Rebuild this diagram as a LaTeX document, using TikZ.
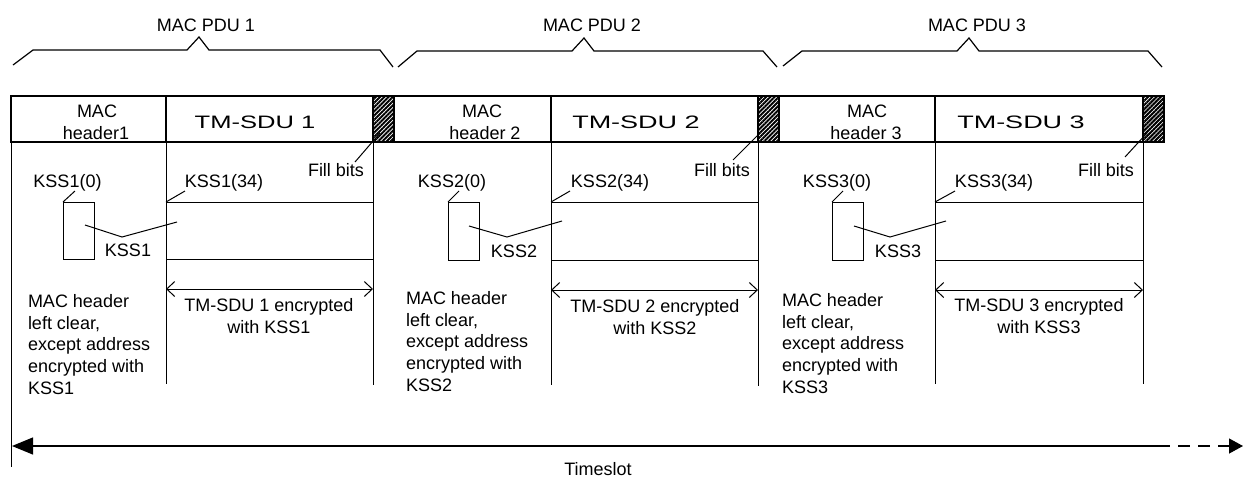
\documentclass[tikz,border=0pt]{standalone}
\usepackage{graphicx}
\usepackage{fontspec}
\setmainfont{Liberation Sans}
\usetikzlibrary{arrows.meta,patterns.meta,fit}
\begin{document}
\begin{tikzpicture}[x=1pt,y=-1pt,line width=1pt,
  every node/.style={font=\fontsize{18pt}{21.75pt}\selectfont,inner sep=0pt,outer sep=0pt},
  box/.style={draw,line width=1pt,inner sep=0pt,outer sep=0pt},
  barbox/.style={draw,line width=1.4pt,inner sep=0pt,outer sep=0pt},
  hatch/.style={draw,line width=1.4pt,inner sep=0pt,outer sep=0pt,
    pattern={Lines[angle=45,distance=3pt,line width=2pt]},pattern color=black},
  lbl/.style={anchor=base},
  multi/.style={align=left,anchor=north west},
  enc/.style={align=center,anchor=north},
  dim/.style={{Straight Barb[length=8pt,width=15pt]}-{Straight Barb[length=8pt,width=15pt]},line width=1pt},
  brace/.style={line width=1.2pt,line join=miter},
  tl/.style={line width=1.2pt}]
\useasboundingbox (0,0) rectangle (1244,477);

% ---------- MAC PDU braces ----------
\draw[brace] (13,65) -- (33,50) -- (187,50) -- (199,37) -- (209,50) -- (380,50) -- (393,67);
\draw[brace] (398,67) -- (417,51) -- (572,51) -- (584,38) -- (594,51) -- (763,51) -- (777,67);
\draw[brace] (783,66) -- (802,51) -- (957,51) -- (969,38) -- (979,51) -- (1148,51) -- (1162,67);
\node[lbl] (pdu1) at (206,31.5) {MAC PDU 1};
\node[lbl] (pdu2) at (592,31.5) {MAC PDU 2};
\node[lbl] (pdu3) at (977,31.5) {MAC PDU 3};

% ---------- bar ----------
\node[barbox,fit={(11,96)(166,142)}] (hdr1) {};
\node[barbox,fit={(166,96)(373,142)}] (sdu1) {};
\node[hatch,fit={(373,96)(394,142)}] (fill1) {};
\node[barbox,fit={(394,96)(551,142)}] (hdr2) {};
\node[barbox,fit={(551,96)(758,142)}] (sdu2) {};
\node[hatch,fit={(758,96)(779,142)}] (fill2) {};
\node[barbox,fit={(779,96)(935,142)}] (hdr3) {};
\node[barbox,fit={(935,96)(1143,142)}] (sdu3) {};
\node[hatch,fit={(1143,96)(1164,142)}] (fill3) {};

\node[lbl] (mac1) at (97,117.5) {MAC};
\node[lbl] (hd1) at (96,139) {header1};
\node[lbl] (tm1) at (255,128) {\scalebox{1.42}[1]{TM-SDU 1}};
\node[lbl] (mac2) at (482,117.5) {MAC};
\node[lbl] (hd2) at (485,139) {header 2};
\node[lbl] (tm2) at (636,128) {\scalebox{1.5}[1]{TM-SDU 2}};
\node[lbl] (mac3) at (867,117.5) {MAC};
\node[lbl] (hd3) at (866,139) {header 3};
\node[lbl] (tm3) at (1021,128) {\scalebox{1.5}[1]{TM-SDU 3}};

% ---------- column 1 ----------
\coordinate (v0) at (11,467);
\draw (hdr1.north west) -- (v0);
\coordinate (v1a) at (166,384);
\coordinate (v1b) at (373,385);
\draw (sdu1.south west) -- (v1a);
\draw (fill1.south west) -- (v1b);
\node[lbl] (fb1) at (336,176) {Fill bits};
\coordinate (fb1a) at (355,162); \coordinate (fb1b) at (380,133);
\draw (fb1a) -- (fb1b);
\node[lbl] (k10) at (67.5,187) {KSS1(0)};
\node[box,fit={(63,202)(94,259)}] (s1) {};
\coordinate (k10a) at (75,191);
\draw (s1.north west) -- (k10a);
\node[lbl] (k134) at (224,187) {KSS1(34)};
\node[box,fit={(166,202)(373,259)}] (b1) {};
\coordinate (k134a) at (185,191);
\draw (b1.north west) -- (k134a);
\coordinate (m1a) at (85,225); \coordinate (m1b) at (122,237); \coordinate (m1c) at (177,222);
\draw (m1a) -- (m1b) -- (m1c);
\node[lbl] (k1) at (128,256) {KSS1};
\coordinate (d1a) at (166,289); \coordinate (d1b) at (373,289);
\draw[dim] (d1a) -- (d1b);
\node[enc] (e1) at (269,298.4) {TM-SDU 1 encrypted\\with KSS1};
\node[multi] (t1) at (28,294.4) {MAC header\\left clear,\\except address\\encrypted with\\KSS1};

% ---------- column 2 ----------
\coordinate (v2a) at (551,385);
\coordinate (v2b) at (758,386);
\draw (sdu2.south west) -- (v2a);
\draw (fill2.south west) -- (v2b);
\node[lbl] (fb2) at (722,176) {Fill bits};
\coordinate (fb2a) at (733,160); \coordinate (fb2b) at (760,133);
\draw (fb2a) -- (fb2b);
\node[lbl] (k20) at (452,187) {KSS2(0)};
\node[box,fit={(448,202)(479,260)}] (s2) {};
\coordinate (k20a) at (459,191);
\draw (s2.north west) -- (k20a);
\node[lbl] (k234) at (610,187) {KSS2(34)};
\node[box,fit={(551,202)(758,260)}] (b2) {};
\coordinate (k234a) at (570,191);
\draw (b2.north west) -- (k234a);
\coordinate (m2a) at (469,226); \coordinate (m2b) at (507,237); \coordinate (m2c) at (562,221);
\draw (m2a) -- (m2b) -- (m2c);
\node[lbl] (k2) at (514,257) {KSS2};
\coordinate (d2a) at (551,290); \coordinate (d2b) at (758,290);
\draw[dim] (d2a) -- (d2b);
\node[enc] (e2) at (655,299.4) {TM-SDU 2 encrypted\\with KSS2};
\node[multi] (t2) at (406,291.4) {MAC header\\left clear,\\except address\\encrypted with\\KSS2};

% ---------- column 3 ----------
\coordinate (v3a) at (935,384);
\coordinate (v3b) at (1143,384);
\draw (sdu3.south west) -- (v3a);
\draw (fill3.south west) -- (v3b);
\node[lbl] (fb3) at (1106,176) {Fill bits};
\coordinate (fb3a) at (1125,157); \coordinate (fb3b) at (1147,133);
\draw (fb3a) -- (fb3b);
\node[lbl] (k30) at (837,187) {KSS3(0)};
\node[box,fit={(832,202)(863,260)}] (s3) {};
\coordinate (k30a) at (843,191);
\draw (s3.north west) -- (k30a);
\node[lbl] (k334) at (994,187) {KSS3(34)};
\node[box,fit={(935,202)(1143,260)}] (b3) {};
\coordinate (k334a) at (955,191);
\draw (b3.north west) -- (k334a);
\coordinate (m3a) at (854,226); \coordinate (m3b) at (890,237); \coordinate (m3c) at (946,221);
\draw (m3a) -- (m3b) -- (m3c);
\node[lbl] (k3) at (898,257) {KSS3};
\coordinate (d3a) at (935,290); \coordinate (d3b) at (1143,290);
\draw[dim] (d3a) -- (d3b);
\node[enc] (e3) at (1039,298.4) {TM-SDU 3 encrypted\\with KSS3};
\node[multi] (t3) at (782,293.4) {MAC header\\left clear,\\except address\\encrypted with\\KSS3};

% ---------- timeslot ----------
\coordinate (ts0) at (12,446);
\coordinate (ts1) at (1158,446);
\coordinate (ts2) at (1243,446);
\draw[tl,{Triangle[length=21pt,width=17pt]}-] (ts0) -- (ts1);
\draw[tl,dash pattern=on 12pt off 8pt,-{Triangle[length=14pt,width=15pt]}] (ts1) -- (ts2);
\node[lbl] (tsl) at (598,475.5) {Timeslot};
\end{tikzpicture}
\end{document}
